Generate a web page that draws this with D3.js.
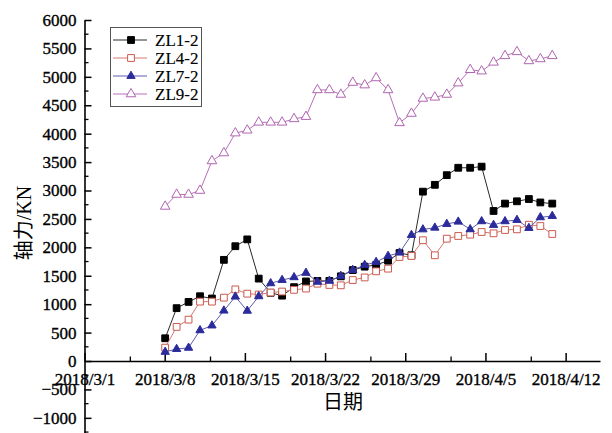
<!DOCTYPE html>
<html><head><meta charset="utf-8">
<script src="https://cdn.jsdelivr.net/npm/d3@7"></script>
<style>body{margin:0;background:#fff}svg{display:block}
.serif{font-family:"Liberation Serif","Times New Roman",serif;stroke:#000;stroke-width:0.35px}
.cjk{font-family:"Liberation Serif","Noto Sans CJK SC",sans-serif}
</style>
</head><body><svg id="c" width="612" height="433"></svg>
<script>
// ---- data ----
const dates = ["2018/3/8 01:00","2018/3/9 01:00","2018/3/10 02:00","2018/3/11 02:00","2018/3/12 03:00","2018/3/13 04:00","2018/3/14 04:00","2018/3/15 05:00","2018/3/16 05:00","2018/3/17 06:00","2018/3/18 06:00","2018/3/19 07:00","2018/3/20 08:00","2018/3/21 08:00","2018/3/22 09:00","2018/3/23 09:00","2018/3/24 10:00","2018/3/25 11:00","2018/3/26 11:00","2018/3/27 12:00","2018/3/28 12:00","2018/3/29 13:00","2018/3/30 13:00","2018/3/31 14:00","2018/4/1 15:00","2018/4/2 15:00","2018/4/3 16:00","2018/4/4 16:00","2018/4/5 17:00","2018/4/6 17:00","2018/4/7 18:00","2018/4/8 19:00","2018/4/9 19:00","2018/4/10 20:00"];
const ZL1_2 = [400,930,1040,1140,1100,1780,2020,2140,1450,1200,1150,1300,1400,1410,1410,1490,1600,1660,1690,1765,1900,1860,2980,3100,3270,3400,3400,3420,2640,2770,2810,2850,2790,2770];
const ZL4_2 = [235,600,728,1045,1045,1115,1260,1185,1170,1205,1222,1252,1275,1360,1338,1332,1425,1470,1578,1625,1830,1848,2125,1860,2152,2200,2223,2270,2247,2305,2317,2398,2375,2235];
const ZL7_2 = [160,210,232,540,624,886,1132,883,1138,1367,1425,1473,1550,1393,1410,1496,1601,1689,1742,1848,1906,2217,2315,2345,2411,2451,2317,2458,2393,2458,2481,2340,2528,2551];
const ZL9_2 = [2720,2930,2930,3000,3520,3660,4010,4060,4200,4200,4200,4260,4300,4770,4770,4690,4900,4855,4980,4770,4190,4355,4620,4640,4690,4890,5125,5100,5255,5370,5440,5280,5315,5370];
const seriesNames = ["ZL1-2","ZL4-2","ZL7-2","ZL9-2"];
const xMajorTicks = ["2018/3/1","2018/3/8","2018/3/15","2018/3/22","2018/3/29","2018/4/5","2018/4/12"];
const xMinorTicks = ["2018/3/5","2018/3/12","2018/3/19","2018/3/26","2018/4/2","2018/4/9"];
const yMajorTicks = [-1000,-500,0,500,1000,1500,2000,2500,3000,3500,4000,4500,5000,5500,6000];
const yMinorTicks = [-1250,-750,-250,250,750,1250,1750,2250,2750,3250,3750,4250,4750,5250,5750];
const xDomain = ["2018/3/1","2018/4/15"];
const yDomain = [-1300, 6000];
const xTitle = "日期", yTitle = "轴力/KN";

// ---- drawing ----
const pDT = d3.timeParse("%Y/%m/%d %H:%M"), pD = d3.timeParse("%Y/%m/%d");
const svg = d3.select("#c");
const x = d3.scaleTime().domain(xDomain.map(pD)).range([84.5, 600]);
const y = d3.scaleLinear().domain(yDomain).range([434.9, 20]);

const styles = [
  {name:seriesNames[0], data:ZL1_2, line:"#2a2a2a", sym:d3.symbolSquare, size:46, fill:"#000", stroke:"#000"},
  {name:seriesNames[1], data:ZL4_2, line:"#d27a70", sym:d3.symbolSquare, size:46, fill:"#fff", stroke:"#cc5a4e"},
  {name:seriesNames[2], data:ZL7_2, line:"#5c5cb0", sym:d3.symbolTriangle, size:30, fill:"#2b2b9c", stroke:"#2b2b9c"},
  {name:seriesNames[3], data:ZL9_2, line:"#b870b8", sym:d3.symbolTriangle, size:40, fill:"#fff", stroke:"#b065b0"}
];

// axes
const xAxis = d3.axisBottom(x).tickValues(xMajorTicks.map(pD)).tickFormat(d3.timeFormat("%Y/%-m/%-d"))
  .tickSizeInner(-8).tickSizeOuter(0).tickPadding(12);
const gx = svg.append("g").attr("transform", `translate(0,${y(0)})`).call(xAxis).attr("font-family", null).attr("font-size", null);
gx.selectAll(".tick text").attr("class", "serif").style("font-size", "17px").attr("fill", "#000");
gx.selectAll("line").attr("stroke", "#000").attr("stroke-width", 1.5);
gx.select(".domain").attr("stroke", "#000").attr("stroke-width", 1.6);
gx.selectAll(".minor").data(xMinorTicks.map(pD)).enter().append("line").attr("class","minor")
  .attr("x1", d => x(d)).attr("x2", d => x(d)).attr("y1", 0).attr("y2", -4.5)
  .attr("stroke", "#000").attr("stroke-width", 1.3);

const yAxis = d3.axisLeft(y).tickValues(yMajorTicks).tickFormat(d3.format("d"))
  .tickSizeInner(-7).tickSizeOuter(0).tickPadding(8);
const gy = svg.append("g").attr("transform", `translate(${x(pD(xDomain[0]))},0)`).call(yAxis).attr("font-family", null).attr("font-size", null);
gy.selectAll(".tick text").attr("class", "serif").style("font-size", "17px").attr("fill", "#000");
gy.selectAll("line").attr("stroke", "#000").attr("stroke-width", 1.5);
gy.select(".domain").attr("stroke", "#000").attr("stroke-width", 1.6);
gy.selectAll(".minor").data(yMinorTicks).enter().append("line").attr("class","minor")
  .attr("x1", 0).attr("x2", 4).attr("y1", d => y(d)).attr("y2", d => y(d))
  .attr("stroke", "#000").attr("stroke-width", 1.3);

// titles
svg.append("text").attr("x", 343).attr("y", 409).attr("text-anchor", "middle")
  .style("font-family", "'Noto Sans CJK SC',sans-serif").style("font-size", "20px").text(xTitle);
svg.append("text").attr("transform", "translate(31,223) rotate(-90)").attr("text-anchor", "middle")
  .attr("class", "cjk").style("font-size", "20px").text(yTitle);

// series
const parsed = dates.map(pDT);
const line = d3.line().x((d,i) => x(parsed[i])).y(d => y(d));
styles.forEach(s => {
  const g = svg.append("g");
  g.append("path").attr("d", line(s.data)).attr("fill", "none").attr("stroke", s.line).attr("stroke-width", 1);
  g.selectAll("path.m").data(s.data).enter().append("path").attr("class","m")
    .attr("d", d3.symbol().type(s.sym).size(s.size))
    .attr("transform", (d,i) => `translate(${x(parsed[i])},${y(d)})`)
    .attr("fill", s.fill).attr("stroke", s.stroke).attr("stroke-width", 1);
});

// legend
const lg = svg.append("g");
lg.append("rect").attr("x", 110.5).attr("y", 27.5).attr("width", 91).attr("height", 79)
  .attr("fill", "#fff").attr("stroke", "#555").attr("stroke-width", 1);
styles.forEach((s, i) => {
  const yy = 40 + i * 18;
  lg.append("line").attr("x1", 113).attr("x2", 147).attr("y1", yy).attr("y2", yy).attr("stroke", s.line).attr("stroke-width", 1);
  lg.append("path").attr("d", d3.symbol().type(s.sym).size(s.size)).attr("transform", `translate(131,${yy})`)
    .attr("fill", s.fill).attr("stroke", s.stroke).attr("stroke-width", 1);
  lg.append("text").attr("x", 155).attr("y", yy).attr("dy", "0.35em").attr("class", "serif")
    .style("font-size", "17px").style("stroke-width", "0.15px").text(s.name);
});
</script></body></html>
